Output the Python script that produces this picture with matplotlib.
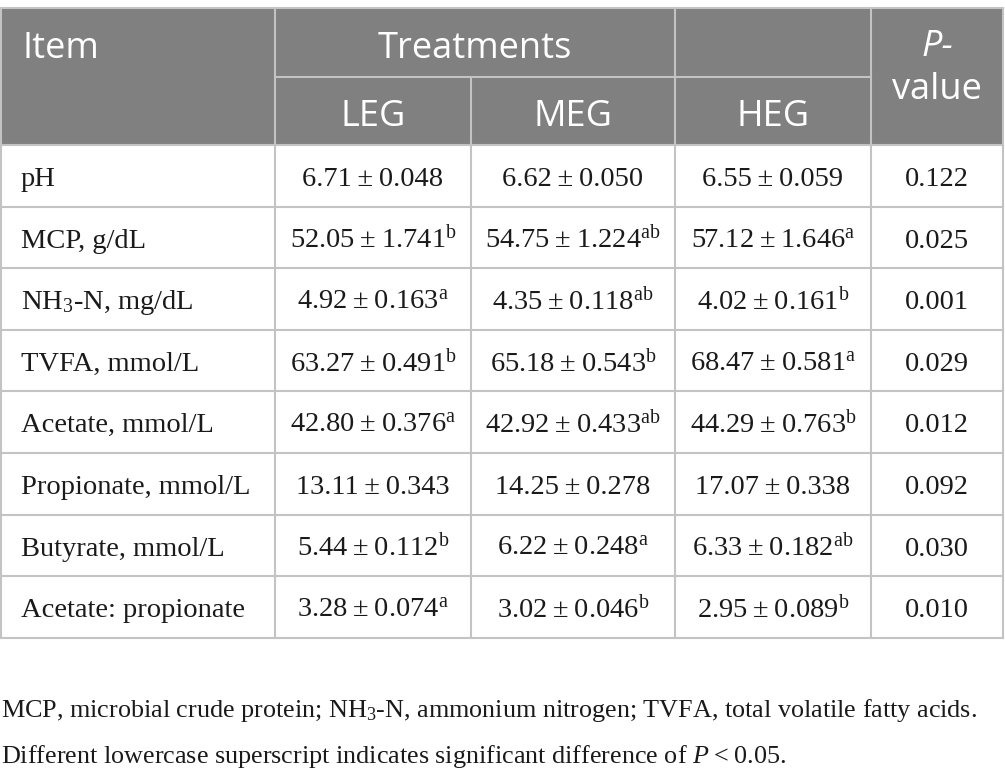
import matplotlib
matplotlib.use("Agg")
import matplotlib.pyplot as plt

# table content
items = ["pH", "MCP, g/dL", "NH$_3$-N, mg/dL", "TVFA, mmol/L", "Acetate, mmol/L",
         "Propionate, mmol/L", "Butyrate, mmol/L", "Acetate: propionate"]
treatments = ["LEG", "MEG", "HEG"]

leg_mean = [6.71, 52.05, 4.92, 63.27, 42.80, 13.11, 5.44, 3.28]
leg_se = [0.048, 1.741, 0.163, 0.491, 0.376, 0.343, 0.112, 0.074]
leg_sup = ["", "b", "a", "b", "a", "", "b", "a"]

meg_mean = [6.62, 54.75, 4.35, 65.18, 42.92, 14.25, 6.22, 3.02]
meg_se = [0.050, 1.224, 0.118, 0.543, 0.433, 0.278, 0.248, 0.046]
meg_sup = ["", "ab", "ab", "b", "ab", "", "a", "b"]

heg_mean = [6.55, 57.12, 4.02, 68.47, 44.29, 17.07, 6.33, 2.95]
heg_se = [0.059, 1.646, 0.161, 0.581, 0.763, 0.338, 0.182, 0.089]
heg_sup = ["", "a", "b", "a", "b", "", "ab", "b"]

p_values = [0.122, 0.025, 0.001, 0.029, 0.012, 0.092, 0.030, 0.010]

footnote_1 = "MCP, microbial crude protein; NH$_3$-N, ammonium nitrogen; TVFA, total volatile fatty acids."
footnote_2 = "Different lowercase superscript indicates significant difference of $P$\u2009<\u20090.05."

plt.rcParams["mathtext.fontset"] = "custom"
plt.rcParams["mathtext.rm"] = "Liberation Serif"
plt.rcParams["mathtext.it"] = "Liberation Serif:italic"
plt.rcParams["mathtext.sf"] = "Liberation Serif"

SERIF = "Liberation Serif"
SANS = "Open Sans"
HEAD_BG = "#808080"
LINE = "#c3c3c3"
TXT = "#1a1a1a"
BODY_FS = 20.5
NOTE_FS = 18.8
HEAD_FS = 26

fig = plt.figure(figsize=(10.05, 7.8), dpi=100)
ax = fig.add_axes([0, 0, 1, 1])
ax.set_xlim(0, 1005)
ax.set_ylim(780, 0)
ax.axis("off")

# column edges and row geometry (pixels)
col_x = [1, 275, 471, 675, 871, 1003]
top, sub_y, head_bot = 8, 77, 145
row_h = 61.6
n_rows = len(items)
bottom = head_bot + n_rows * row_h

# header background
ax.add_patch(plt.Rectangle((col_x[0], top), col_x[-1] - col_x[0], head_bot - top,
                           facecolor=HEAD_BG, edgecolor="none", zorder=0))

lw = 1.5
# outer frame
ax.plot([col_x[0], col_x[-1]], [top, top], color=LINE, lw=lw)
ax.plot([col_x[0], col_x[-1]], [bottom, bottom], color=LINE, lw=lw)
ax.plot([col_x[0], col_x[0]], [top, bottom], color=LINE, lw=lw)
ax.plot([col_x[-1], col_x[-1]], [top, bottom], color=LINE, lw=lw)
# header grid
ax.plot([col_x[1], col_x[4]], [sub_y, sub_y], color=LINE, lw=lw)
ax.plot([col_x[1], col_x[1]], [top, bottom], color=LINE, lw=lw)
ax.plot([col_x[3], col_x[3]], [top, bottom], color=LINE, lw=lw)
ax.plot([col_x[4], col_x[4]], [top, bottom], color=LINE, lw=lw)
ax.plot([col_x[2], col_x[2]], [sub_y, bottom], color=LINE, lw=lw)
# body rows
for i in range(n_rows):
    y = head_bot + i * row_h
    ax.plot([col_x[0], col_x[-1]], [y, y], color=LINE, lw=lw)

# header texts (baselines)
ax.text(22, 58, "Item", family=SANS, fontsize=HEAD_FS,
        color="white", ha="left", va="baseline")
ax.text((col_x[1] + col_x[3]) / 2, 58, "Treatments", family=SANS,
        fontsize=HEAD_FS, color="white", ha="center", va="baseline")
for j, name in enumerate(treatments):
    ax.text((col_x[j + 1] + col_x[j + 2]) / 2, 126, name,
            family=SANS, fontsize=HEAD_FS, color="white", ha="center", va="baseline")
p_cx = (col_x[4] + col_x[5]) / 2
ax.text(p_cx, 56, "P-", family=SANS, fontstyle="italic", fontsize=HEAD_FS,
        color="white", ha="center", va="baseline")
ax.text(p_cx, 99, "value", family=SANS, fontsize=HEAD_FS,
        color="white", ha="center", va="baseline")


def cell(mean, se, sup):
    s = f"{mean:.2f}\u2009±\u2009{se:.3f}"
    if sup:
        s += "${}^{\\mathrm{" + sup + "}}$"
    return s


groups = [(leg_mean, leg_se, leg_sup), (meg_mean, meg_se, meg_sup), (heg_mean, heg_se, heg_sup)]
for i in range(n_rows):
    yb = head_bot + i * row_h + 41
    ax.text(21, yb, items[i], family=SERIF, fontsize=BODY_FS, ha="left", va="baseline",
            color=TXT)
    for j, (m, s, sp) in enumerate(groups):
        ax.text((col_x[j + 1] + col_x[j + 2]) / 2, yb, cell(m[i], s[i], sp[i]),
                family=SERIF, fontsize=BODY_FS, ha="center", va="baseline", color=TXT)
    ax.text(p_cx, yb, f"{p_values[i]:.3f}", family=SERIF, fontsize=BODY_FS,
            ha="center", va="baseline", color=TXT)

ax.text(1, 717, footnote_1, family=SERIF, fontsize=NOTE_FS, ha="left", va="baseline",
        color=TXT)
ax.text(1, 763, footnote_2, family=SERIF, fontsize=NOTE_FS, ha="left", va="baseline",
        color=TXT)

fig.savefig("out.png", dpi=100)
